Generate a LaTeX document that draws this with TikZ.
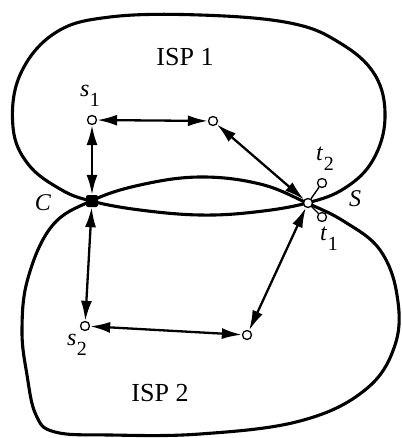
\documentclass[tikz,border=0pt]{standalone}
\usepackage{fontspec}
\setmainfont{Liberation Serif}
\usetikzlibrary{arrows.meta}
\newcommand\lblsub[2]{\textit{#1}\kern0.5pt\raisebox{-0.42em}{\fontsize{20}{20}\selectfont #2}}
\tikzset{
  outline/.style={line width=3.1pt, line join=round},
  link/.style={line width=2.3pt, {Latex[length=20pt,width=11pt]}-{Latex[length=20pt,width=11pt]}},
  host/.style={circle, draw, fill=white, line width=1.3pt, minimum size=9pt, inner sep=0pt},
  hub/.style={rounded corners=2pt, rectangle, fill=black, minimum size=12pt, inner sep=0pt},
  lbl/.style={font=\fontsize{24}{24}\selectfont, inner sep=0pt},
  isp/.style={font=\fontsize{26}{26}\selectfont, inner sep=0pt},
}
\begin{document}
\begin{tikzpicture}[x=1pt,y=-1pt]
\useasboundingbox (0,0) rectangle (401,438);
% ISP 1 outline
\draw[outline] plot[smooth cycle, tension=0.65] coordinates {
 (91,201) (140,210) (200,215) (255,212) (307,203) (345,188) (373,160)
 (385,118) (375,75) (340,43) (290,23) (200,15) (110,17) (55,33) (20,75)
 (13,127) (28,164) (60,189)};
% ISP 2 outline
\draw[outline] plot[smooth cycle, tension=0.65] coordinates {
 (91,201) (140,185) (200,177) (260,184) (307,203) (345,222) (380,250)
 (397,295) (395,345) (365,390) (300,421) (200,434) (110,435) (55,432)
 (36,415) (27,375) (22,330) (28,278) (52,226)};
% nodes
\node[host] (s1) at (92,120) {};
\node[host] (a) at (213,121) {};
\node[hub] (c) at (92,201) {};
\node[host] (s) at (308,203) {};
\node[host] (s2) at (85,326) {};
\node[host] (b) at (247,335) {};
\node[host] (t2) at (322,183) {};
\node[host] (t1) at (322,217) {};
% links
\draw[link] (s1) -- (a);
\draw[link] (a) -- (s);
\draw[link] (s1) -- (c);
\draw[link] (c) -- (s2);
\draw[link] (s2) -- (b);
\draw[link] (b) -- (s);
\draw[line width=1.4pt] (s) -- (t2);
\draw[line width=1.4pt] (s) -- (t1);
% labels
\node[isp] (l1) at (185,57) {ISP 1};
\node[isp] (l2) at (160,393) {ISP 2};
\node[lbl] (ls1) at (90,96) {\lblsub{s}{1}};
\node[lbl] (ls2) at (77,345) {\lblsub{s}{2}};
\node[lbl] (lt2) at (325,159) {\lblsub{t}{2}};
\node[lbl] (lt1) at (329,239) {\lblsub{t}{1}};
\node[lbl] (lc) at (43,203) {\textit{C}};
\node[lbl] (ls) at (355,199) {\textit{S}};
\end{tikzpicture}
\end{document}
